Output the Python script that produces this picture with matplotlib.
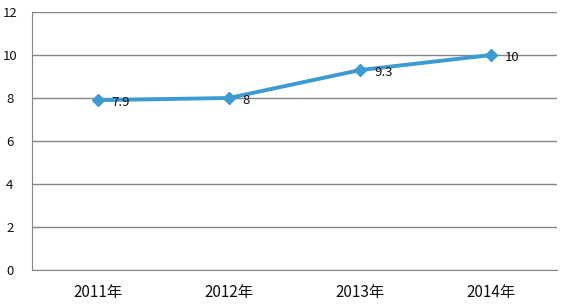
import matplotlib
matplotlib.use("Agg")
import matplotlib.pyplot as plt

plt.rcParams['font.family'] = ['Noto Sans CJK SC', 'DejaVu Sans']

categories = ["2011年", "2012年", "2013年", "2014年"]
values = [7.9, 8, 9.3, 10]
yticks = [0, 2, 4, 6, 8, 10, 12]

fig = plt.figure(figsize=(5.61, 3.05), dpi=100)
ax = fig.add_axes([32/561, 1-270/305, (557-32)/561, (270-12)/305])
x = list(range(len(categories)))
ax.plot(x, values, color='#3C9BD0', lw=2.8, marker='D', ms=6, zorder=3)
for xi, v in zip(x, values):
    ax.annotate(f"{v:g}", (xi, v), xytext=(10, -1.5), textcoords='offset points',
                ha='left', va='center', fontsize=9.5, color='#111111')
ax.set_xlim(-0.5, 3.5)
ax.set_ylim(0, 12)
ax.set_yticks(yticks)
ax.set_xticks(x)
ax.set_xticklabels(categories)
ax.tick_params(axis='both', length=0, colors='#111111')
ax.tick_params(axis='x', labelsize=11, pad=10)
ax.tick_params(axis='y', labelsize=9.5, pad=16)
for lab in ax.get_yticklabels():
    lab.set_horizontalalignment('center')
ax.grid(axis='y', color='#868686', lw=1)
ax.set_axisbelow(True)
for s in ['top', 'right']:
    ax.spines[s].set_visible(False)
ax.spines['left'].set_color('#868686')
ax.spines['bottom'].set_color('#868686')
fig.savefig('out.png', dpi=100)
